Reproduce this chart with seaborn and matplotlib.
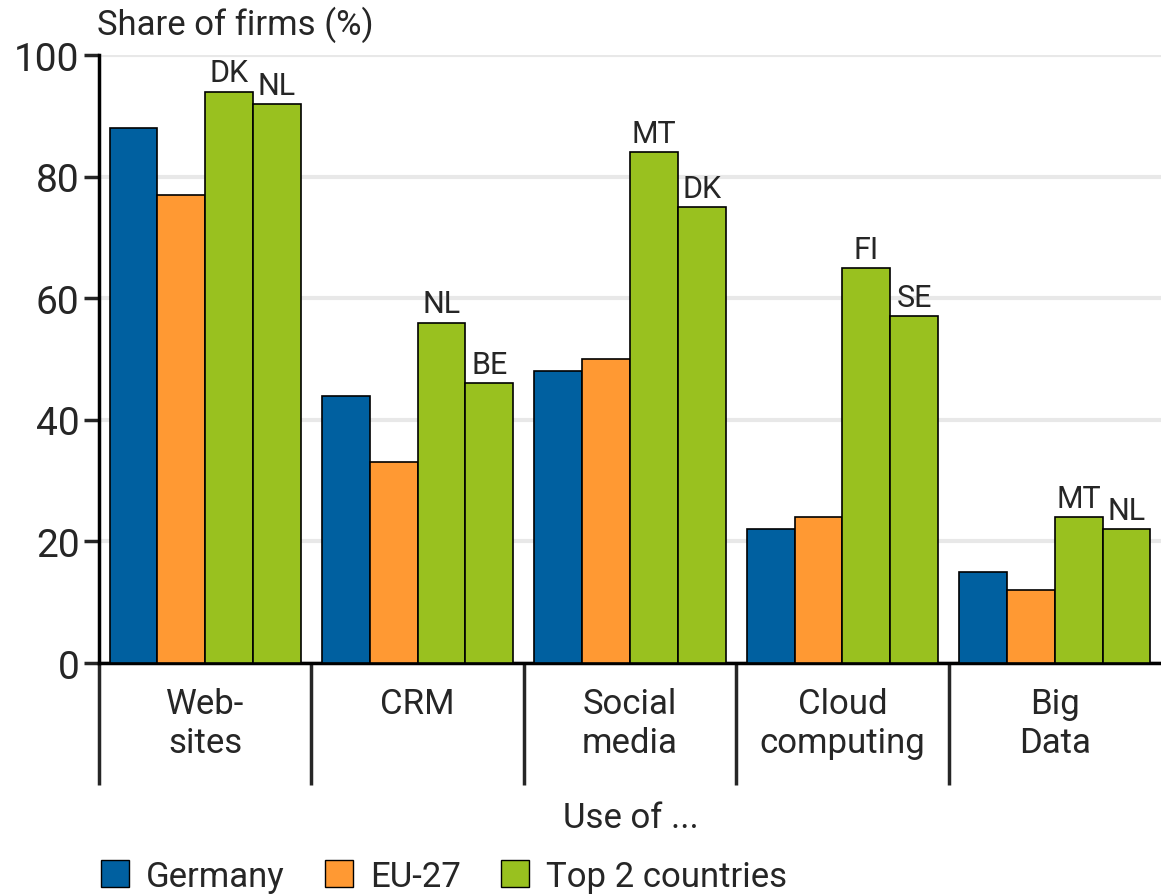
import pandas as pd
import seaborn as sns
import matplotlib.pyplot as plt
from matplotlib.patches import Patch

# data
categories = ['Web-\nsites', 'CRM', 'Social\nmedia', 'Cloud\ncomputing', 'Big\nData']
germany = [88, 44, 48, 22, 15]
eu27 = [77, 33, 50, 24, 12]
top1 = [94, 56, 84, 65, 24]
top2 = [92, 46, 75, 57, 22]
top1_labels = ['DK', 'NL', 'MT', 'FI', 'MT']
top2_labels = ['NL', 'BE', 'DK', 'SE', 'NL']

blue = '#0060a0'
orange = '#ff9933'
green = '#99c11f'

rows = []
for i, cat in enumerate(categories):
    rows.append((cat, 'Germany', germany[i]))
    rows.append((cat, 'EU-27', eu27[i]))
    rows.append((cat, 'Top 1', top1[i]))
    rows.append((cat, 'Top 2', top2[i]))
df = pd.DataFrame(rows, columns=['use', 'group', 'share'])

sns.set_style('white')
plt.rcParams['font.family'] = ['Roboto', 'DejaVu Sans']

fig = plt.figure(figsize=(11.61, 8.95), dpi=100)
ax = fig.add_axes([0.0853, 0.258, 0.9147, 0.6794])

sns.barplot(data=df, x='use', y='share', hue='group',
            hue_order=['Germany', 'EU-27', 'Top 1', 'Top 2'],
            palette={'Germany': blue, 'EU-27': orange, 'Top 1': green, 'Top 2': green},
            width=0.9, gap=0, saturation=1, edgecolor='black', linewidth=1.2,
            legend=False, ax=ax, zorder=3)

ax.bar_label(ax.containers[2], labels=top1_labels, padding=3, fontsize=22)
ax.bar_label(ax.containers[3], labels=top2_labels, padding=3, fontsize=22)

ax.set_ylim(0, 100)
ax.set_xlim(-0.5, 4.5)
ax.set_yticks([0, 20, 40, 60, 80, 100])
ax.yaxis.grid(True, color='#e8e8e8', linewidth=3, zorder=0)
ax.set_axisbelow(True)

for s in ['top', 'right']:
    ax.spines[s].set_visible(False)
ax.spines['left'].set_linewidth(2.5)
ax.spines['bottom'].set_linewidth(2.5)
ax.spines['left'].set_color('black')
ax.spines['bottom'].set_color('black')

ax.tick_params(axis='y', length=11, width=2.5, labelsize=28, pad=3, left=True)
ax.set_xticks(range(len(categories)))
ax.set_xticklabels(categories, fontsize=25, linespacing=1.25, va='top')
ax.tick_params(axis='x', which='major', length=0, pad=17)
ax.set_xticks([-0.5, 0.5, 1.5, 2.5, 3.5], minor=True)
ax.tick_params(axis='x', which='minor', length=88, width=2.5, direction='out', bottom=True)

ax.set_ylabel('')
ax.set_xlabel('')
fig.text(0.543, 0.086, 'Use of ...', fontsize=25, ha='center', va='center')
fig.text(0.0835, 0.972, 'Share of firms (%)', fontsize=25, ha='left', va='center')

handles = [Patch(facecolor=blue, edgecolor='black', label='Germany'),
           Patch(facecolor=orange, edgecolor='black', label='EU-27'),
           Patch(facecolor=green, edgecolor='black', label='Top 2 countries')]
fig.legend(handles=handles, loc='center left', bbox_to_anchor=(0.075, 0.02),
           ncol=3, frameon=False, fontsize=25, handlelength=0.8, handleheight=0.8,
           handletextpad=0.5, columnspacing=1.15, borderaxespad=0)

fig.savefig('out.png', dpi=100)
